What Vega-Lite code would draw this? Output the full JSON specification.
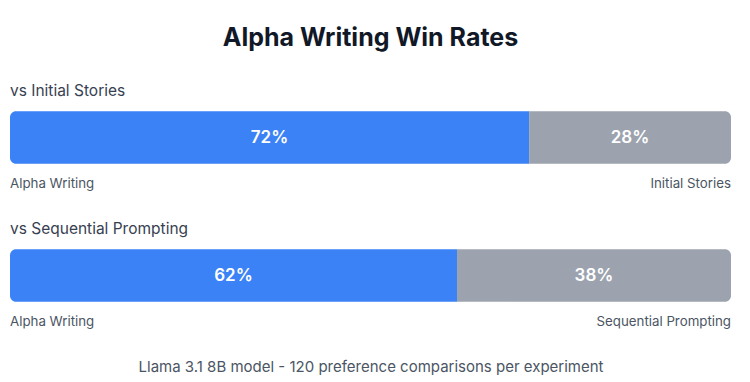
{
  "$schema": "https://vega.github.io/schema/vega-lite/v6.json",
  "autosize": "none",
  "width": 721,
  "height": 276,
  "padding": {"left": 10, "right": 19, "top": 68.5, "bottom": 37.5},
  "background": "white",
  "config": {"view": {"stroke": null}, "font": "Inter"},
  "title": {
    "text": "Alpha Writing Win Rates",
    "fontSize": 25,
    "fontWeight": "bold",
    "font": "Inter",
    "color": "#111827",
    "anchor": "middle",
    "frame": "group",
    "offset": 18
  },
  "data": {
    "values": [
      {"comparison": "vs Initial Stories", "side": "Alpha Writing", "pct": 72, "order": 1},
      {"comparison": "vs Initial Stories", "side": "Initial Stories", "pct": 28, "order": 2},
      {"comparison": "vs Sequential Prompting", "side": "Alpha Writing", "pct": 62, "order": 1},
      {"comparison": "vs Sequential Prompting", "side": "Sequential Prompting", "pct": 38, "order": 2}
    ]
  },
  "transform": [
    {"stack": "pct", "groupby": ["comparison"], "sort": [{"field": "order"}], "as": ["x0", "x1"]},
    {"calculate": "(datum.x0 + datum.x1) / 2", "as": "mid"},
    {"calculate": "datum.pct + '%'", "as": "label"}
  ],
  "encoding": {
    "y": {
      "field": "comparison",
      "type": "nominal",
      "scale": {"paddingInner": 0, "paddingOuter": 0},
      "axis": null,
      "sort": ["vs Initial Stories", "vs Sequential Prompting"]
    }
  },
  "layer": [
    {
      "transform": [{"filter": "datum.order == 1"}],
      "mark": {"type": "bar", "color": "#3B82F6", "height": {"band": 0.38}, "cornerRadiusTopLeft": 6, "cornerRadiusBottomLeft": 6},
      "encoding": {
        "x": {
          "field": "x0", "type": "quantitative",
          "scale": {"domain": [0, 100], "nice": false, "zero": true},
          "axis": {
            "title": "Llama 3.1 8B model - 120 preference comparisons per experiment",
            "titleFont": "Inter", "titleFontSize": 15, "titleFontWeight": "normal", "titleColor": "#4B5563",
            "titlePadding": 15, "labels": false, "ticks": false, "domain": false, "grid": false
          }
        },
        "x2": {"field": "x1"}
      }
    },
    {
      "transform": [{"filter": "datum.order == 2"}],
      "mark": {"type": "bar", "color": "#9CA3AF", "height": {"band": 0.38}, "cornerRadiusTopRight": 6, "cornerRadiusBottomRight": 6},
      "encoding": {
        "x": {"field": "x0", "type": "quantitative"},
        "x2": {"field": "x1"}
      }
    },
    {
      "mark": {"type": "text", "color": "white", "fontSize": 17, "fontWeight": 600, "font": "Inter", "baseline": "middle", "align": "center"},
      "encoding": {
        "x": {"field": "mid", "type": "quantitative"},
        "text": {"field": "label"}
      }
    },
    {
      "transform": [{"filter": "datum.order == 1"}],
      "mark": {"type": "text", "color": "#374151", "fontSize": 15.5, "font": "Inter", "baseline": "middle", "align": "left", "dy": -46.5},
      "encoding": {
        "x": {"datum": 0, "type": "quantitative"},
        "text": {"field": "comparison"}
      }
    },
    {
      "transform": [{"filter": "datum.order == 1"}],
      "mark": {"type": "text", "color": "#4B5563", "fontSize": 13.3, "font": "Inter", "baseline": "middle", "align": "left", "dy": 46.5},
      "encoding": {
        "x": {"datum": 0, "type": "quantitative"},
        "text": {"field": "side"}
      }
    },
    {
      "transform": [{"filter": "datum.order == 2"}],
      "mark": {"type": "text", "color": "#4B5563", "fontSize": 13.3, "font": "Inter", "baseline": "middle", "align": "right", "dy": 46.5},
      "encoding": {
        "x": {"datum": 100, "type": "quantitative"},
        "text": {"field": "side"}
      }
    }
  ]
}
